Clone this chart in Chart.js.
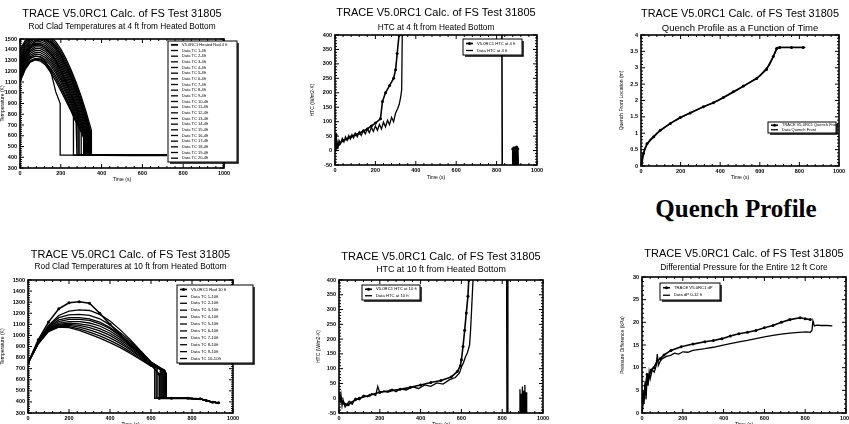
<!DOCTYPE html>
<html>
<head>
<meta charset="utf-8">
<script src="https://cdn.jsdelivr.net/npm/chart.js@4.4.1/dist/chart.umd.min.js"></script>
<style>
html, body { margin: 0; padding: 0; background: #fff; width: 849px; height: 424px; overflow: hidden; position: relative; }
canvas { position: absolute; }
#quench { position: absolute; left: 636px; top: 195px; width: 200px; text-align: center; color: #000;
  font: bold 25px "Liberation Serif", "Times New Roman", serif; white-space: nowrap; }
</style>
</head>
<body>
<canvas id="c1"></canvas>
<canvas id="c2"></canvas>
<canvas id="c3"></canvas>
<canvas id="c4"></canvas>
<canvas id="c5"></canvas>
<canvas id="c6"></canvas>
<div id="quench">Quench Profile</div>
<script>
var TITLE = 'TRACE V5.0RC1 Calc. of FS Test 31805';
var FONT = '"Liberation Sans", Arial, sans-serif';

// axis ranges: [min, max, step]
var timeAxis = [0, 1000, 200];
var tempAxis = [300, 1500, 100];
var htcAxis = [-50, 400, 50];
var zqAxis = [0, 4, 0.5];
var dpAxis = [0, 30, 5];

// ---- rod clad temperatures at 4 ft (first row is the calculation)
var rod4Labels = ['V5.0RC1 Heated Rod 4 ft', 'Data TC 1-4ft', 'Data TC 2-4ft', 'Data TC 3-4ft', 'Data TC 4-4ft',
  'Data TC 5-4ft', 'Data TC 6-4ft', 'Data TC 7-4ft', 'Data TC 8-4ft', 'Data TC 9-4ft', 'Data TC 10-4ft',
  'Data TC 11-4ft', 'Data TC 12-4ft', 'Data TC 13-4ft', 'Data TC 14-4ft', 'Data TC 15-4ft', 'Data TC 16-4ft',
  'Data TC 17-4ft', 'Data TC 18-4ft', 'Data TC 19-4ft', 'Data TC 20-4ft'];
var rod4Time = [0, 25, 50, 75, 100, 125, 150, 175, 200, 225, 250, 275, 300, 325];
var rod4Temps = [
  [1100, 1300, 1420, 1480, 1500, 1495, 1470, 1420, 1350, 1260, 1150, 1030, 890, 740],
  [1400, 1485, 1535, 1558, 1562, 1550, 1522, 1475, 1405, 1318, 1215, 1098, 965, 815],
  [1380, 1470, 1522, 1546, 1550, 1536, 1505, 1455, 1383, 1295, 1192, 1075, 942, 790],
  [1350, 1452, 1508, 1534, 1538, 1522, 1488, 1436, 1362, 1272, 1168, 1050, 915, 765],
  [1320, 1432, 1492, 1520, 1524, 1506, 1470, 1416, 1340, 1248, 1142, 1023, 888, 738],
  [1300, 1415, 1476, 1505, 1508, 1490, 1452, 1396, 1318, 1225, 1118, 998, 862, 712],
  [1280, 1398, 1460, 1490, 1492, 1473, 1434, 1376, 1296, 1202, 1094, 973, 836, 688],
  [1260, 1380, 1444, 1474, 1476, 1456, 1415, 1356, 1274, 1178, 1068, 946, 808, 660],
  [1240, 1362, 1428, 1458, 1460, 1438, 1396, 1335, 1252, 1154, 1044, 920, 782, 634],
  [1220, 1345, 1412, 1442, 1444, 1421, 1377, 1314, 1230, 1131, 1019, 894, 756],
  [1200, 1328, 1396, 1426, 1427, 1403, 1357, 1292, 1206, 1106, 993, 867, 730],
  [1200, 1318, 1383, 1410, 1410, 1385, 1338, 1272, 1186, 1085, 972, 846, 710],
  [1180, 1300, 1366, 1393, 1392, 1366, 1318, 1251, 1164, 1062, 948, 822, 686],
  [1160, 1284, 1350, 1376, 1374, 1347, 1298, 1230, 1142, 1040, 925, 798, 660],
  [1150, 1270, 1334, 1358, 1355, 1327, 1277, 1208, 1120, 1017, 902, 775, 640],
  [1130, 1254, 1318, 1340, 1336, 1306, 1255, 1185, 1096, 993, 878, 752],
  [1120, 1240, 1300, 1320, 1314, 1283, 1230, 1158, 1068, 964, 848, 726],
  [1100, 1215, 1285, 1305, 1295, 1258, 1190, 1110, 1020, 925, 830, 725],
  [1210, 1285, 1325, 1340, 1332, 1290, 1205, 1010],
  [1110, 1228, 1290, 1312, 1305, 1272, 1212, 1135, 1045, 948, 845],
  [1250, 1370, 1430, 1450, 1445, 1418, 1370, 1300, 1210, 1105, 990, 865]
];
var rod4QuenchTime = [340, 350, 346, 342, 338, 335, 332, 330, 328, 325, 322, 320, 318, 315, 312, 300, 290, 279, 197, 262, 285];
var rod4QuenchTemp = [640, 650, 640, 625, 615, 610, 600, 590, 580, 610, 610, 600, 590, 580, 580, 630, 680, 712, 900, 800, 820];
var rod4TailTime = [400, 550, 720];
var rod4TailTemp = [420, 418, 418];

// ---- HTC at 4 ft
var htc4Labels = ['V5.0RC1 HTC at 4 ft', 'Data HTC at 4 ft'];
var htc4CalcTime = [0, 5, 10, 20, 40, 60, 80, 100, 120, 140, 160, 180, 200, 225, 235, 250, 270, 290, 300, 308, 317, 320,
  826, 828, 878, 880, 883, 886, 889, 892, 896, 899, 902, 905, 909, 912, 1000];
var htc4Calc = [0, 55, 10, 22, 35, 40, 48, 55, 60, 68, 75, 85, 95, 110, 170, 200, 225, 250, 280, 336, 400, 480,
  480, -80, -80, 5, -80, 10, -80, 8, -80, 12, -80, 6, -80, -80, -80];
var htc4DataTime = [0, 3, 6, 10, 15, 20, 28, 36, 44, 52, 60, 68, 76, 84, 92, 100, 110, 120, 130, 140,
  150, 160, 170, 180, 190, 200, 210, 220, 230, 240, 250, 260, 270, 280, 290, 300, 310, 318, 325, 330,
  333, 336, 1000];
var htc4Data = [0, 45, 5, 30, 15, 35, 25, 42, 30, 48, 36, 52, 40, 55, 44, 60, 48, 65, 52, 70,
  58, 75, 62, 80, 66, 85, 70, 90, 75, 98, 82, 105, 90, 115, 100, 130, 145, 160, 185, 210,
  400, 500, 500];

// ---- quench front elevation
var quenchLabels = ['TRACE V5.0RC1 Quench Front', 'Data Quench Front'];
var quenchCalcTime = [0, 5, 13, 30, 64, 97, 148, 198, 248, 315, 366, 416, 466, 517, 584, 634, 668, 685, 701, 760, 819];
var quenchCalc = [0, 0.1, 0.38, 0.68, 0.89, 1.09, 1.30, 1.48, 1.62, 1.81, 1.93, 2.09, 2.27, 2.44, 2.67, 2.95, 3.34, 3.59, 3.62, 3.62, 3.62];
var quenchDataTime = [0, 8, 20, 45, 80, 120, 170, 220, 280, 340, 390, 440, 490, 540, 600, 650, 680, 690, 830];
var quenchData = [0.05, 0.3, 0.55, 0.8, 1.0, 1.18, 1.38, 1.54, 1.71, 1.87, 2.0, 2.16, 2.33, 2.52, 2.75, 3.1, 3.5, 3.62, 3.62];

// ---- rod clad temperatures at 10 ft (first row is the calculation)
var rod10Labels = ['V5.0RC1 Rod 10 ft', 'Data TC 1-10ft', 'Data TC 2-10ft', 'Data TC 3-10ft', 'Data TC 4-10ft',
  'Data TC 5-10ft', 'Data TC 6-10ft', 'Data TC 7-10ft', 'Data TC 8-10ft', 'Data TC 9-10ft', 'Data TC 10-10ft'];
var rod10Time = [0, 50, 100, 150, 200, 250, 300, 350, 400, 450, 500, 550, 600];
var rod10Temps = [
  [750, 960, 1120, 1240, 1295, 1304, 1290, 1200, 1100, 1010, 905, 830, 735],
  [750, 950, 1090, 1180, 1220, 1230, 1225, 1190, 1130, 1050, 960, 860, 760],
  [750, 945, 1080, 1160, 1185, 1190, 1180, 1150, 1095, 1025, 945, 855, 760],
  [750, 940, 1075, 1140, 1160, 1160, 1150, 1120, 1070, 1005, 930, 845, 755],
  [750, 940, 1065, 1125, 1145, 1145, 1135, 1105, 1060, 995, 920, 840, 750],
  [750, 935, 1060, 1110, 1125, 1125, 1112, 1085, 1040, 980, 910, 830, 745],
  [750, 935, 1055, 1100, 1110, 1105, 1090, 1062, 1020, 962, 895, 820, 740],
  [750, 930, 1050, 1095, 1100, 1090, 1070, 1040, 1000, 945, 880, 810, 735],
  [750, 930, 1045, 1085, 1090, 1075, 1050, 1018, 978, 928, 868, 800, 730],
  [750, 925, 1040, 1080, 1080, 1060, 1030, 995, 955, 908, 852, 790, 725],
  [750, 925, 1035, 1075, 1070, 1045, 1012, 975, 935, 890, 838, 780, 722]
];
var rod10QuenchTime = [640, 660, 670, 650, 645, 675, 655, 630, 625, 665, 618];
var rod10QuenchTemp = [650, 690, 680, 700, 690, 660, 690, 720, 715, 690, 715];
var rod10TailTime = [700, 780, 840, 870, 900, 930];
var rod10TailTemp = [432, 432, 428, 412, 398, 392];

// ---- HTC at 10 ft
var htc10Labels = ['V5.0RC1 HTC at 10 ft', 'Data HTC at 10 ft'];
var htc10CalcTime = [0, 10, 20, 30, 45, 60, 80, 100, 150, 200, 250, 300, 350, 400, 450, 500, 550, 580, 595, 600,
  608, 616, 624, 632, 636, 640, 822, 824, 1000];
var htc10Calc = [0, -10, -15, -20, -22, -15, -5, 0, 10, 20, 25, 30, 37, 45, 53, 60, 72, 90, 110, 130,
  175, 230, 288, 345, 400, 480, 480, -80, -80];
var htc10DataTime = [0, 3, 6, 10, 15, 20, 30, 40, 50, 65, 80, 100, 120, 140, 160, 180, 190, 200, 220, 240,
  260, 280, 300, 330, 360, 390, 420, 450, 480, 510, 540, 570, 590, 600, 610, 620, 630, 640, 645, 650,
  657, 662, 826, 828, 884, 887, 890, 893, 896, 899, 902, 905, 908, 911, 914, 917, 920, 1000];
var htc10Data = [5, 20, -15, 10, -25, -5, -30, -20, -10, -20, 0, -5, 10, 5, 15, 10, 40, 18, 25, 20,
  30, 22, 32, 28, 38, 33, 45, 40, 52, 48, 62, 70, 85, 105, 120, 140, 155, 180, 230, 300,
  400, 480, 480, -80, -80, 30, -80, 15, -80, 40, -80, 25, -80, 45, -80, 20, -80, -80];

// ---- differential pressure, whole core
var dpLabels = ['TRACE V5.0RC1 dP', 'Data dP 0-12 ft'];
var dpCalcTime = [0, 8, 17, 25, 33, 45, 58, 75, 90, 108, 142, 192, 250, 308, 350, 392, 433, 475, 517, 558,
  600, 642, 683, 725, 775, 800, 825];
var dpCalc = [0, 3.5, 6, 8.5, 8, 9.5, 10, 11.5, 12, 12.8, 13.8, 14.6, 15.2, 15.7, 16.0, 16.4, 17.0, 17.5, 17.8, 18.2,
  18.8, 19.3, 20.0, 20.6, 21.0, 20.8, 20.6];
var dpDataTime = [0, 5, 10, 15, 20, 25, 30, 35, 40, 50, 60, 70, 75, 80, 90, 100, 120, 140, 160, 180,
  200, 225, 250, 275, 308, 350, 392, 433, 475, 517, 558, 600, 642, 683, 725, 767, 808, 825, 833, 838,
  845, 858, 880, 908, 933];
var dpData = [0, 5, 2, 7, 3, 8, 6, 9, 7.5, 9.5, 9, 10.5, 13, 10.5, 11.5, 12, 12.5, 12.7, 13.2, 13,
  13.5, 13.4, 13.8, 14, 14.2, 14.5, 14.9, 15.3, 15.7, 16, 16.4, 16.8, 17.1, 17.4, 17.6, 17.8, 17.9, 17.8, 18.2, 20.3,
  19.2, 19.4, 19.3, 19.3, 19.2];

// page placement of each panel (pixels)
var panels = {
  c1: {left: 0, top: 0, width: 258, plot: [20, 39, 224, 168], titleY: 14, subY: 27, subSize: 8.3, yTitleX: 3, xTitleY: 180, legend: [168, 41, 237, 162], legendFont: 4},
  c2: {left: 300, top: 0, width: 275, plot: [335, 35, 537, 165], titleY: 13, subY: 28, subSize: 8.3, yTitleX: 313, xTitleY: 178, legend: [463, 39, 522, 55], legendFont: 4.2},
  c3: {left: 605, top: 0, width: 250, plot: [641, 35, 839, 166], titleY: 14, subY: 28, subSize: 9.5, yTitleX: 622, xTitleY: 178, legend: [768, 122, 836, 133], legendFont: 4},
  c4: {left: 0, top: 236, width: 262, plot: [28, 280, 233, 413], titleY: 255, subY: 267, subSize: 8.3, yTitleX: 3, xTitleY: 425, legend: [177, 285, 253, 363], legendFont: 4.2},
  c5: {left: 305, top: 236, width: 270, plot: [339, 280, 543, 413], titleY: 257, subY: 270, subSize: 8.9, yTitleX: 319, xTitleY: 425, legend: [362, 285, 420, 300], legendFont: 4.2},
  c6: {left: 608, top: 236, width: 250, plot: [642, 277, 846, 413], titleY: 254, subY: 268, subSize: 8.5, yTitleX: 623, xTitleY: 425, legend: [660, 283, 720, 300], legendFont: 4.2}
};

function lineSet(label, xs, ys, calc) {
  return {
    label: label,
    data: xs.map(function(x, i) { return {x: x, y: ys[i]}; }),
    borderColor: '#000',
    backgroundColor: '#000',
    borderWidth: calc ? 1.6 : 1.3,
    pointRadius: calc ? 1.5 : 0,
    pointBorderWidth: 0,
    tension: 0
  };
}

// one clad temperature trace: values on the grid, drop at quench, then the wet tail
function rodSet(label, grid, temps, qt, tq, tailT, tailV, calc) {
  var xs = grid.slice(0, temps.length).concat([qt, qt], tailT);
  var ys = temps.concat([tq, tailV[0]], tailV);
  return lineSet(label, xs, ys, calc);
}

// inward major/minor ticks on all four sides plus the frame
var framePlugin = {
  id: 'frame',
  afterDatasetsDraw: function(chart) {
    var ctx = chart.ctx, a = chart.chartArea;
    ctx.save();
    ctx.strokeStyle = '#000';
    ctx.lineWidth = 1;
    [chart.scales.x, chart.scales.y].forEach(function(s) {
      var step = s.options.ticks.stepSize / 5;
      ctx.beginPath();
      for (var k = 0; s.min + k * step <= s.max + 1e-9; k++) {
        var p = s.getPixelForValue(s.min + k * step);
        var len = k % 5 === 0 ? 4 : 2;
        if (s.isHorizontal()) {
          ctx.moveTo(p, a.bottom); ctx.lineTo(p, a.bottom - len);
          ctx.moveTo(p, a.top); ctx.lineTo(p, a.top + len);
        } else {
          ctx.moveTo(a.left, p); ctx.lineTo(a.left + len, p);
          ctx.moveTo(a.right, p); ctx.lineTo(a.right - len, p);
        }
      }
      ctx.stroke();
    });
    ctx.lineWidth = 1.6;
    ctx.strokeRect(a.left, a.top, a.right - a.left, a.bottom - a.top);
    ctx.restore();
  }
};

// boxed legend drawn where the original had it
var boxLegend = {
  id: 'boxLegend',
  afterDatasetsDraw: function(chart, args, opts) {
    if (!opts.box) return;
    var ctx = chart.ctx;
    var x0 = opts.box[0], y0 = opts.box[1], x1 = opts.box[2], y1 = opts.box[3];
    var sets = chart.data.datasets;
    var rowH = (y1 - y0 - 2) / sets.length;
    var sample = 7;
    ctx.save();
    ctx.fillStyle = '#fff';
    ctx.fillRect(x0, y0, x1 - x0, y1 - y0);
    ctx.strokeStyle = '#000';
    ctx.lineWidth = 1;
    ctx.strokeRect(x0, y0, x1 - x0, y1 - y0);
    ctx.lineWidth = 1.5;
    ctx.beginPath();
    ctx.moveTo(x0 + 2, y1 + 1); ctx.lineTo(x1 + 1, y1 + 1); ctx.lineTo(x1 + 1, y0 + 2);
    ctx.stroke();
    ctx.font = opts.fontSize + 'px ' + FONT;
    ctx.textBaseline = 'middle';
    ctx.fillStyle = '#000';
    sets.forEach(function(ds, i) {
      var cy = y0 + 1 + rowH * (i + 0.5);
      ctx.lineWidth = ds.borderWidth;
      ctx.beginPath();
      ctx.moveTo(x0 + 3, cy); ctx.lineTo(x0 + 3 + sample, cy);
      ctx.stroke();
      if (ds.pointRadius > 0) {
        ctx.beginPath();
        ctx.arc(x0 + 3 + sample / 2, cy, ds.pointRadius, 0, Math.PI * 2);
        ctx.fill();
      }
      ctx.fillText(ds.label, x0 + sample + 7, cy);
    });
    ctx.restore();
  }
};

function build(id, datasets, xr, yr, sub, xTitle, yTitle) {
  var p = panels[id];
  var cv = document.getElementById(id);
  var plotL = p.plot[0], plotT = p.plot[1], plotR = p.plot[2], plotB = p.plot[3];
  var xh = 18;
  var h = plotB + xh - p.top;
  cv.width = p.width; cv.height = h;
  cv.style.left = p.left + 'px'; cv.style.top = p.top + 'px';
  var tLH = 11 * 1.2, sLH = p.subSize * 1.2, aLH = 5 * 1.2;
  var box = p.legend.map(function(v, i) { return v - (i % 2 ? p.top : p.left); });
  var tickFont = {family: FONT, size: 5.5, weight: 'bold'};
  new Chart(cv, {
    type: 'line',
    data: {datasets: datasets},
    options: {
      responsive: false,
      animation: false,
      events: [],
      layout: {padding: {left: 0, top: 0, bottom: 0, right: p.left + p.width - plotR}},
      plugins: {
        legend: {display: false},
        tooltip: {enabled: false},
        title: {display: true, text: TITLE, fullSize: false, color: '#000',
          font: {family: FONT, size: 11, weight: 'normal', lineHeight: 1.2},
          padding: {top: Math.max(0, p.titleY - p.top - tLH / 2), bottom: 0}},
        subtitle: {display: true, text: sub, fullSize: false, color: '#000',
          font: {family: FONT, size: p.subSize, weight: 'normal', lineHeight: 1.2},
          padding: {top: Math.max(0, p.subY - sLH / 2 - p.titleY - tLH / 2), bottom: Math.max(0, plotT - p.subY - sLH / 2)}},
        boxLegend: {box: box, fontSize: p.legendFont}
      },
      scales: {
        x: {
          type: 'linear', min: xr[0], max: xr[1],
          grid: {display: false, drawTicks: false}, border: {display: false},
          ticks: {stepSize: xr[2], autoSkip: false, maxRotation: 0, padding: 2, color: '#000', font: tickFont,
            callback: function(v) { return String(v); }},
          title: {display: true, text: xTitle, color: '#000', font: {family: FONT, size: 5},
            padding: {top: 0, bottom: h - (p.xTitleY - p.top) - aLH / 2}},
          afterFit: function(s) { s.height = xh; }
        },
        y: {
          type: 'linear', min: yr[0], max: yr[1],
          grid: {display: false, drawTicks: false}, border: {display: false},
          ticks: {stepSize: yr[2], autoSkip: false, padding: 3, color: '#000', font: tickFont,
            callback: function(v) { return String(v); }},
          title: {display: true, text: yTitle, color: '#000', font: {family: FONT, size: 5},
            padding: {top: p.yTitleX - p.left - aLH / 2, bottom: 0}},
          afterFit: function(s) { s.width = plotL - p.left; }
        }
      }
    },
    plugins: [framePlugin, boxLegend]
  });
}

var sets1 = rod4Temps.map(function(row, i) {
  return rodSet(rod4Labels[i], rod4Time, row, rod4QuenchTime[i], rod4QuenchTemp[i], rod4TailTime, rod4TailTemp, false);
});
sets1[0].borderWidth = 1.8;
build('c1', sets1, timeAxis, tempAxis, 'Rod Clad Temperatures at 4 ft from Heated Bottom', 'Time (s)', 'Temperature (K)');

build('c2', [
  lineSet(htc4Labels[0], htc4CalcTime, htc4Calc, true),
  lineSet(htc4Labels[1], htc4DataTime, htc4Data, false)
], timeAxis, htcAxis, 'HTC at 4 ft from Heated Bottom', 'Time (s)', 'HTC (W/m2-K)');

build('c3', [
  lineSet(quenchLabels[0], quenchCalcTime, quenchCalc, true),
  lineSet(quenchLabels[1], quenchDataTime, quenchData, false)
], timeAxis, zqAxis, 'Quench Profile as a Function of Time', 'Time (s)', 'Quench Front Location (m)');

var sets4 = rod10Temps.map(function(row, i) {
  return rodSet(rod10Labels[i], rod10Time, row, rod10QuenchTime[i], rod10QuenchTemp[i], rod10TailTime, rod10TailTemp, i === 0);
});
build('c4', sets4, timeAxis, tempAxis, 'Rod Clad Temperatures at 10 ft from Heated Bottom', 'Time (s)', 'Temperature (K)');

build('c5', [
  lineSet(htc10Labels[0], htc10CalcTime, htc10Calc, true),
  lineSet(htc10Labels[1], htc10DataTime, htc10Data, false)
], timeAxis, htcAxis, 'HTC at 10 ft from Heated Bottom', 'Time (s)', 'HTC (W/m2-K)');

build('c6', [
  lineSet(dpLabels[0], dpCalcTime, dpCalc, true),
  lineSet(dpLabels[1], dpDataTime, dpData, false)
], timeAxis, dpAxis, 'Differential Pressure for the Entire 12 ft Core', 'Time (s)', 'Pressure Difference (kPa)');
</script>
</body>
</html>
